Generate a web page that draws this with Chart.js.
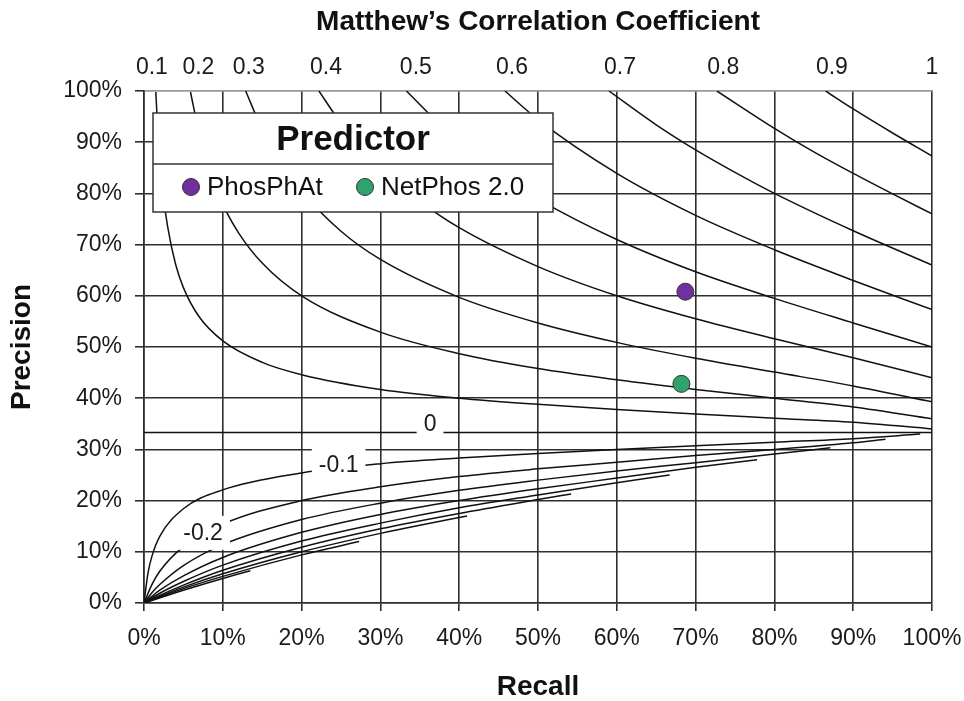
<!DOCTYPE html>
<html>
<head>
<meta charset="utf-8">
<title>Precision / Recall with MCC isolines</title>
<script src="https://cdn.jsdelivr.net/npm/chart.js@4.4.1/dist/chart.umd.min.js"></script>
<style>
  html, body { margin: 0; padding: 0; background: #fff; }
  #wrap { width: 964px; height: 701px; }
</style>
</head>
<body>
<div id="wrap"><canvas id="mccChart" width="964" height="701"></canvas></div>
<script>
// predictors (recall %, precision %)
const predictorNames = ['PhosPhAt', 'NetPhos 2.0'];
const predictorRecall = [68.7, 68.2];
const predictorPrecision = [60.8, 42.8];
const predictorColors = ['#7030a0', '#2ea36b'];

// top axis: MCC values and where their labels sit on the recall scale
const mccTickLabels = ['0.1', '0.2', '0.3', '0.4', '0.5', '0.6', '0.7', '0.8', '0.9', '1'];
const mccTickRecall = [1.0, 6.9, 13.3, 23.1, 34.5, 46.7, 60.4, 73.5, 87.3, 100];

// MCC isolines, [recall %, precision %]
const mccPos01 = [[1.5, 99.8], [1.7, 93.8], [2, 87], [2.5, 79], [3, 73.5], [4, 66.2], [5, 61.6], [7, 55.9], [10, 51.2], [15, 47], [20, 44.6], [30, 41.7], [40, 40], [50, 38.8], [60, 37.8], [70, 36.9], [80, 36.1], [90, 35.3], [100, 34]];
const mccPos02 = [[5.9, 99.8], [7, 91.7], [8, 86.1], [10, 77.9], [12, 72.3], [15, 66.4], [20, 60], [30, 52.9], [40, 48.7], [50, 45.8], [60, 43.6], [70, 41.7], [80, 40], [90, 38.3], [100, 36]];
const mccPos03 = [[12.9, 100], [15, 92.5], [17, 86.9], [20, 80.4], [25, 72.6], [30, 67.1], [40, 59.7], [50, 54.7], [60, 50.9], [70, 47.8], [80, 45.1], [90, 42.4], [100, 39.3]];
const mccPos04 = [[22.2, 100], [25, 93.7], [30, 85], [35, 78.5], [40, 73.3], [50, 65.7], [60, 60], [70, 55.5], [80, 51.6], [90, 47.9], [100, 44]];
const mccPos05 = [[33.3, 100], [40, 89.8], [45, 83.8], [50, 78.9], [60, 71], [70, 64.7], [80, 59.5], [90, 54.7], [100, 50]];
const mccPos06 = [[45.8, 100], [50, 94.4], [60, 83.9], [70, 75.7], [80, 69], [90, 63], [100, 57.3]];
const mccPos07 = [[59, 100], [65, 93.4], [70, 88.5], [75, 84.1], [80, 80], [90, 72.7], [100, 66]];
const mccPos08 = [[72.7, 100], [80, 92.7], [85, 88.1], [90, 83.9], [95, 79.9], [100, 76]];
const mccPos09 = [[86.5, 100], [90, 96.5], [95, 91.8], [100, 87.3]];
const mccZero = [[0, 33.3], [100, 33.3]];
const mccNeg01 = [[0, 0], [0.5, 5.8], [1, 9.1], [2, 13], [5, 18.4], [10, 22.1], [20, 25.4], [30, 27.2], [40, 28.3], [50, 29.2], [60, 30], [70, 30.7], [80, 31.4], [90, 32.1], [98.5, 33]];
const mccNeg02 = [[0, 0], [1, 3.6], [2, 6.2], [5, 11], [10, 15.4], [20, 20], [30, 22.7], [40, 24.7], [50, 26.2], [60, 27.5], [70, 28.8], [80, 30], [90, 31.3], [94.1, 32]];
const mccNeg03 = [[0, 0], [1, 2], [2, 3.6], [5, 7.3], [10, 11.4], [20, 16.3], [30, 19.5], [40, 22], [50, 24], [60, 25.8], [70, 27.4], [80, 29.1], [87.1, 30.3]];
const mccNeg04 = [[0, 0], [1, 1.3], [2, 2.5], [5, 5.3], [10, 8.9], [20, 13.8], [30, 17.3], [40, 20], [50, 22.3], [60, 24.4], [70, 26.5], [77.8, 28]];
const mccNeg05 = [[0, 0], [2, 1.9], [5, 4.2], [10, 7.4], [20, 12.1], [30, 15.6], [40, 18.6], [50, 21.1], [60, 23.5], [66.7, 25]];
const mccNeg06 = [[0, 0], [2, 1.5], [5, 3.5], [10, 6.4], [20, 10.9], [30, 14.5], [40, 17.5], [50, 20.2], [54.2, 21.3]];
const mccNeg07 = [[0, 0], [2, 1.3], [5, 3.1], [10, 5.7], [20, 10], [30, 13.6], [35, 15.2], [41, 17]];
const mccNeg08 = [[0, 0], [5, 2.8], [10, 5.2], [20, 9.4], [27.3, 12]];
const mccNeg09 = [[0, 0], [5, 2.5], [10, 4.8], [13.5, 6.3]];

// in-plot isoline labels and where they sit
const curveLabelText = ['0', '-0.1', '-0.2'];
const curveLabelAt = [[36.3, 35.0], [24.7, 27.1], [7.5, 13.7]];

const isolines = [mccPos01, mccPos02, mccPos03, mccPos04, mccPos05, mccPos06, mccPos07, mccPos08, mccPos09,
    mccZero, mccNeg01, mccNeg02, mccNeg03, mccNeg04, mccNeg05, mccNeg06, mccNeg07, mccNeg08, mccNeg09];

const family = '"Liberation Sans", Arial, Helvetica, sans-serif';
Chart.defaults.font.family = family;
Chart.defaults.color = '#1a1a1a';

const gridDark = '#2e2e2e';
const frameGrey = '#9a9a9a';

const datasets = [];
// markers first so they are drawn on top of the lines
predictorNames.forEach((name, i) => {
    datasets.push({
        label: name,
        data: [{ x: predictorRecall[i], y: predictorPrecision[i] }],
        backgroundColor: predictorColors[i],
        borderColor: '#333',
        borderWidth: 1,
        pointRadius: 8.5,
        pointHoverRadius: 8.5,
        showLine: false
    });
});
isolines.forEach(line => {
    datasets.push({
        label: '',
        data: line.map(p => ({ x: p[0], y: p[1] })),
        showLine: true,
        borderColor: '#111',
        borderWidth: 1.5,
        pointRadius: 0,
        pointHoverRadius: 0,
        cubicInterpolationMode: 'monotone',
        fill: false
    });
});

// white-boxed labels on the isolines
const curveLabels = {
    id: 'curveLabels',
    afterDatasetsDraw(chart) {
        const { ctx, scales } = chart;
        ctx.save();
        ctx.font = '23px ' + family;
        ctx.textAlign = 'center';
        ctx.textBaseline = 'middle';
        curveLabelText.forEach((txt, i) => {
            const px = scales.x.getPixelForValue(curveLabelAt[i][0]);
            const py = scales.y.getPixelForValue(curveLabelAt[i][1]);
            const w = ctx.measureText(txt).width + 14;
            ctx.fillStyle = '#fff';
            ctx.fillRect(px - w / 2, py - 17, w, 34);
            ctx.fillStyle = '#1a1a1a';
            ctx.fillText(txt, px, py + 1);
        });
        ctx.restore();
    }
};

// boxed legend with a title row
const predictorLegend = {
    id: 'predictorLegend',
    afterDraw(chart) {
        const { ctx, chartArea } = chart;
        const left = chartArea.left + 9, top = chartArea.top + 22, w = 400, h = 99, split = 51;
        ctx.save();
        ctx.fillStyle = '#fff';
        ctx.fillRect(left, top, w, h);
        ctx.strokeStyle = '#333';
        ctx.lineWidth = 1.5;
        ctx.strokeRect(left, top, w, h);
        ctx.beginPath();
        ctx.moveTo(left, top + split);
        ctx.lineTo(left + w, top + split);
        ctx.stroke();

        ctx.fillStyle = '#111';
        ctx.textAlign = 'center';
        ctx.textBaseline = 'middle';
        ctx.font = 'bold 35px ' + family;
        ctx.fillText('Predictor', left + w / 2, top + 27);

        ctx.font = '26px ' + family;
        ctx.textAlign = 'left';
        const itemX = [38, 212];
        predictorNames.forEach((name, i) => {
            const cx = left + itemX[i], cy = top + 74;
            ctx.beginPath();
            ctx.arc(cx, cy, 8.5, 0, Math.PI * 2);
            ctx.fillStyle = predictorColors[i];
            ctx.fill();
            ctx.lineWidth = 1;
            ctx.strokeStyle = '#333';
            ctx.stroke();
            ctx.fillStyle = '#111';
            ctx.fillText(name, cx + 16, cy + 1);
        });
        ctx.restore();
    }
};

const titleFont = { size: 28, weight: 'bold', lineHeight: 1 };

const mccChart = new Chart(document.getElementById('mccChart'), {
    type: 'scatter',
    data: { datasets: datasets },
    options: {
        responsive: false,
        animation: false,
        layout: { padding: { left: 0, right: 32, top: 0, bottom: 0 } },
        plugins: {
            legend: { display: false },
            tooltip: { enabled: false }
        },
        scales: {
            x: {
                type: 'linear',
                position: 'bottom',
                min: 0,
                max: 100,
                ticks: { stepSize: 10, maxRotation: 0, padding: 14, font: { size: 23 }, callback: v => v + '%' },
                grid: { color: gridDark, lineWidth: 1.6, tickLength: 8, tickColor: gridDark },
                border: { color: gridDark, width: 1.6 },
                title: { display: true, text: 'Recall', color: '#111', font: titleFont, padding: { top: 0, bottom: 0 } },
                afterFit: s => { s.height = 98; s.paddingLeft = 0; s.paddingRight = 0; }
            },
            x2: {
                type: 'linear',
                position: 'top',
                min: 0,
                max: 100,
                afterBuildTicks: s => { s.ticks = mccTickRecall.map(v => ({ value: v })); },
                ticks: { autoSkip: false, maxRotation: 0, padding: 10, font: { size: 23 }, callback: (v, i) => mccTickLabels[i] },
                grid: { display: false, drawTicks: false, tickLength: 0 },
                border: { display: true, color: frameGrey, width: 1.5 },
                title: { display: true, text: 'Matthew\u2019s Correlation Coefficient', color: '#111', font: titleFont, padding: { top: 8, bottom: 0 } },
                afterFit: s => { s.height = 91; s.paddingLeft = 0; s.paddingRight = 0; }
            },
            y: {
                type: 'linear',
                min: 0,
                max: 100,
                ticks: { stepSize: 10, padding: 13, font: { size: 23 }, callback: v => v + '%' },
                grid: {
                    color: c => (c.tick && c.tick.value === 100) ? frameGrey : gridDark,
                    lineWidth: 1.6,
                    tickLength: 9,
                    tickColor: gridDark
                },
                border: { color: gridDark, width: 1.6 },
                title: { display: true, text: 'Precision', color: '#111', font: titleFont, padding: { top: 8, bottom: 0 } },
                afterFit: s => { s.width = 144; s.paddingTop = 0; s.paddingBottom = 0; }
            }
        }
    },
    plugins: [curveLabels, predictorLegend]
});
</script>
</body>
</html>
